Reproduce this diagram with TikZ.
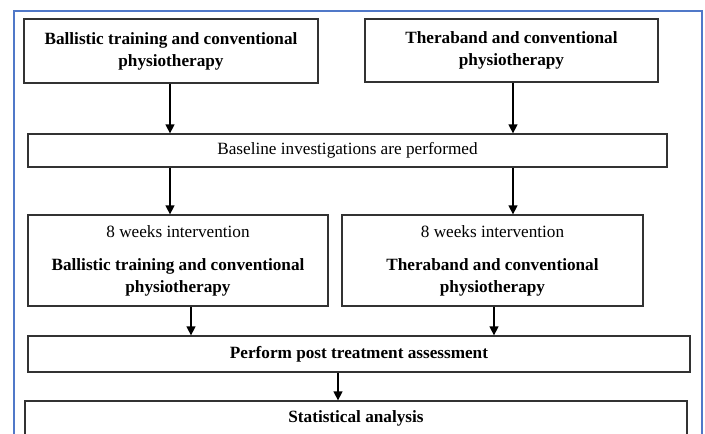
\documentclass[tikz,border=0pt]{standalone}
\usepackage{fontspec}
\setmainfont{Liberation Serif}
\usetikzlibrary{arrows.meta}
\definecolor{frameblue}{RGB}{80,120,200}
\definecolor{boxline}{RGB}{50,50,50}
\begin{document}
\begin{tikzpicture}[x=1pt,y=-1pt,
  box/.style={draw=boxline,line width=1.3pt,rectangle,inner sep=0pt,align=center,
    font=\fontsize{17.2}{22}\selectfont},
  arr/.style={draw=black,line width=1.4pt,-{Triangle[length=9pt,width=9pt]}}]
\useasboundingbox (0,0) rectangle (705,434);
\fill[white] (0,0) rectangle (705,434);
\clip (0,0) rectangle (705,434);
\draw[frameblue,line width=1.4pt] (14,440) -- (14,11) -- (702,11) -- (702,440);
\node[box,minimum width=294pt,minimum height=64pt] (b1) at (171,51)
  {\textbf{Ballistic training and conventional}\\\textbf{physiotherapy}};
\node[box,minimum width=293pt,minimum height=63pt] (b2) at (511.5,50.5)
  {\textbf{Theraband and conventional}\\\textbf{physiotherapy}};
\node[box,minimum width=639pt,minimum height=33pt] (base) at (347.5,150.5)
  {Baseline investigations are performed};
\node[box,minimum width=300pt,minimum height=91pt] (m1) at (178,260.5)
  {8 weeks intervention\\[11pt]\textbf{Ballistic training and conventional}\\\textbf{physiotherapy}};
\node[box,minimum width=301pt,minimum height=91pt] (m2) at (492.5,260.5)
  {8 weeks intervention\\[11pt]\textbf{Theraband and conventional}\\\textbf{physiotherapy}};
\node[box,minimum width=662pt,minimum height=36pt] (post) at (359,354)
  {\textbf{Perform post treatment assessment}};
\node[box,minimum width=662pt,minimum height=34pt] (stat) at (356,418)
  {\textbf{Statistical analysis}};
\draw[arr] ([xshift=-1pt]b1.south) -- ([xshift=-1pt]b1.south |- base.north);
\draw[arr] ([xshift=1.5pt]b2.south) -- ([xshift=1.5pt]b2.south |- base.north);
\draw[arr] ([xshift=-1pt]b1.south |- base.south) -- ([xshift=-1pt]b1.south |- m1.north);
\draw[arr] ([xshift=1.5pt]b2.south |- base.south) -- ([xshift=1.5pt]b2.south |- m2.north);
\draw[arr] ([xshift=13pt]m1.south) -- ([xshift=13pt]m1.south |- post.north);
\draw[arr] ([xshift=1.5pt]m2.south) -- ([xshift=1.5pt]m2.south |- post.north);
\draw[arr] ([xshift=-21pt]post.south) -- ([xshift=-21pt]post.south |- stat.north);
\end{tikzpicture}
\end{document}
